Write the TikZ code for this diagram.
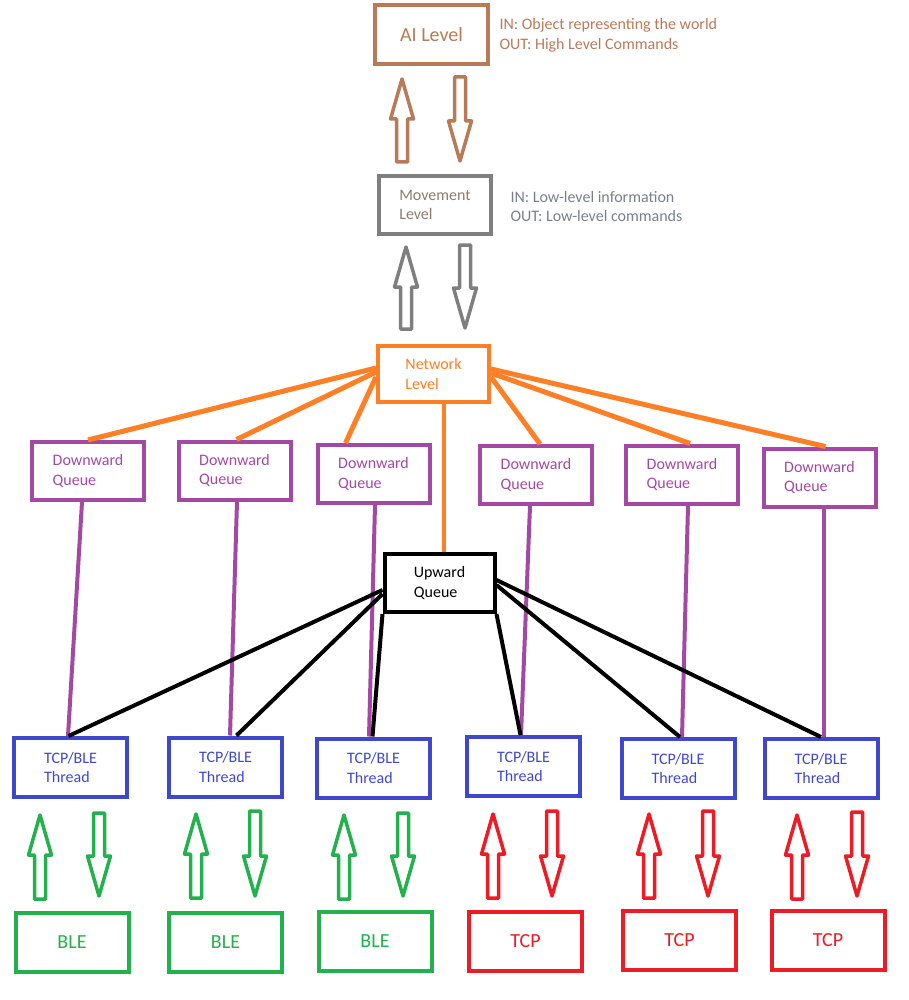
\documentclass[tikz,border=0pt]{standalone}
\usepackage{fontspec}
\setmainfont{Carlito}

\definecolor{aicol}{RGB}{185,122,87}
\definecolor{mvcol}{RGB}{127,127,127}
\definecolor{mvtext}{RGB}{140,124,110}
\definecolor{mvside}{RGB}{120,128,140}
\definecolor{netcol}{RGB}{255,127,39}
\definecolor{dqcol}{RGB}{163,73,164}
\definecolor{thrcol}{RGB}{63,72,204}
\definecolor{blecol}{RGB}{34,177,76}
\definecolor{tcpcol}{RGB}{237,28,36}

% hollow block arrows: colour, x, tip y, foot y
\newcommand{\blockup}[4]{%
  \draw[#1, line width=3.5pt, line join=round] (#2-5.5,#4) -- (#2-5.5,#3+40) -- (#2-11.5,#3+40) -- (#2,#3) -- (#2+11.5,#3+40) -- (#2+5.5,#3+40) -- (#2+5.5,#4) -- cycle;}
% colour, x, top y, tip y
\newcommand{\blockdown}[4]{%
  \draw[#1, line width=3.5pt, line join=round] (#2-5.5,#3) -- (#2-5.5,#4-40) -- (#2-11.5,#4-40) -- (#2,#4) -- (#2+11.5,#4-40) -- (#2+5.5,#4-40) -- (#2+5.5,#3) -- cycle;}

\begin{document}
\begin{tikzpicture}[x=1pt, y=-1pt,
    every node/.style={font=\fontsize{16}{19.5}\selectfont},
    box/.style={draw, line width=4pt, rectangle, inner sep=0pt, align=left, minimum width=112pt, minimum height=58pt},
    bigbox/.style={box, minimum width=113pt, minimum height=59pt},
    big/.style={font=\fontsize{20}{24}\selectfont},
    dqbox/.style={box, dqcol, text=dqcol},
    thrbox/.style={bigbox, thrcol, text=thrcol},
    netline/.style={netcol, line width=5pt},
    dqline/.style={dqcol, line width=4pt},
    upline/.style={black, line width=4pt}]
\useasboundingbox (0,0) rectangle (908,1000);

% AI level
\node[box, aicol, text=aicol, big, minimum width=113pt, minimum height=59pt] (ai) at (431.5,34.5) {AI Level};
\node[anchor=west, align=left, text=aicol] (aiside) at (496,35.5) {IN: Object representing the world\\OUT: High Level Commands};
\blockup{aicol}{402}{79}{162}
\blockdown{aicol}{460}{77}{161}

% Movement level
\node[box, mvcol, text=mvtext] (move) at (435,205) {Movement\\Level};
\node[anchor=west, align=left, text=mvside] (moveside) at (507,206.5) {IN: Low-level information\\OUT: Low-level commands};
\blockup{mvcol}{406}{247}{329}
\blockdown{mvcol}{465}{245}{328}

% Network level
\node[box, netcol, text=netcol, minimum width=111pt, minimum height=56pt] (net) at (433.5,374) {Network\\Level};

% Downward queues
\node[dqbox] (dq1) at (88,471) {Downward\\Queue};
\node[dqbox] (dq2) at (234.5,470.5) {Downward\\Queue};
\node[dqbox] (dq3) at (373.5,474) {Downward\\Queue};
\node[dqbox] (dq4) at (536,475) {Downward\\Queue};
\node[dqbox] (dq5) at (682,474.5) {Downward\\Queue};
\node[dqbox] (dq6) at (819.5,477.5) {Downward\\Queue};

% Upward queue
\node[box, black, minimum width=110pt, minimum height=58pt] (up) at (439.5,583) {Upward\\Queue};

% Threads
\node[thrbox] (thr1) at (70.5,767.5) {TCP/BLE\\Thread};
\node[thrbox] (thr2) at (225.5,767) {TCP/BLE\\Thread};
\node[thrbox] (thr3) at (373.5,768) {TCP/BLE\\Thread};
\node[thrbox] (thr4) at (523.5,766.5) {TCP/BLE\\Thread};
\node[thrbox] (thr5) at (678,768.5) {TCP/BLE\\Thread};
\node[thrbox] (thr6) at (821,768.5) {TCP/BLE\\Thread};

% Devices
\node[bigbox, big, blecol, text=blecol] (ble1) at (72,942.5) {BLE};
\node[bigbox, big, blecol, text=blecol] (ble2) at (225.5,942.5) {BLE};
\node[bigbox, big, blecol, text=blecol] (ble3) at (375,941.5) {BLE};
\node[bigbox, big, tcpcol, text=tcpcol] (tcp1) at (525.5,941) {TCP};
\node[bigbox, big, tcpcol, text=tcpcol] (tcp2) at (679.5,940) {TCP};
\node[bigbox, big, tcpcol, text=tcpcol] (tcp3) at (828,940) {TCP};

% Network fan-out
\draw[netline] ([yshift=6pt]net.west) -- (dq1.north);
\draw[netline] ([yshift=2pt]net.west) -- ([xshift=2pt]dq2.north);
\draw[netline] ([yshift=-3pt]net.west) -- ([xshift=-28pt]dq3.north);
\draw[netline] ([yshift=-3pt]net.east) -- ([xshift=4pt]dq4.north);
\draw[netline] ([yshift=1pt]net.east) -- ([xshift=8pt]dq5.north);
\draw[netline] ([yshift=5pt]net.east) -- ([xshift=6pt]dq6.north);
\draw[netcol, line width=4pt] ([xshift=10.5pt]net.south) -- ([xshift=4.5pt]up.north);

% Downward queues to threads
\draw[dqline] ([xshift=-6pt]dq1.south) -- ([xshift=-2.5pt]thr1.north);
\draw[dqline] ([xshift=2.5pt]dq2.south) -- ([xshift=4.5pt]thr2.north);
\draw[dqline] ([xshift=1.5pt]dq3.south) -- ([xshift=-4.5pt]thr3.north);
\draw[dqline] ([xshift=-6pt]dq4.south) -- ([xshift=-2.5pt]thr4.north);
\draw[dqline] ([xshift=6pt]dq5.south) -- ([xshift=4pt]thr5.north);
\draw[dqline] ([xshift=4.5pt]dq6.south) -- ([xshift=3pt]thr6.north);

% Threads to upward queue
\draw[upline] ([yshift=-7pt]up.west) -- ([xshift=-2pt]thr1.north);
\draw[upline] ([yshift=-11pt]up.west) -- ([xshift=11pt]thr2.north);
\draw[upline] (up.south west) -- ([xshift=-1pt]thr3.north);
\draw[upline] (up.south east) -- ([xshift=-3pt]thr4.north);
\draw[upline] ([yshift=-2pt]up.east) -- ([xshift=2pt]thr5.north);
\draw[upline] ([yshift=3pt]up.east) -- (thr6.north);

% Thread <-> device arrows
\blockup{blecol}{40}{815}{899}   \blockdown{blecol}{99}{813}{896}
\blockup{blecol}{196}{814}{898}  \blockdown{blecol}{255}{811}{896}
\blockup{blecol}{344}{815}{899}  \blockdown{blecol}{403}{813}{896}
\blockup{tcpcol}{493}{814}{898}  \blockdown{tcpcol}{552}{811}{896}
\blockup{tcpcol}{649}{814}{898}  \blockdown{tcpcol}{708}{811}{896}
\blockup{tcpcol}{797}{815}{899}  \blockdown{tcpcol}{857}{812}{896}
\end{tikzpicture}
\end{document}
